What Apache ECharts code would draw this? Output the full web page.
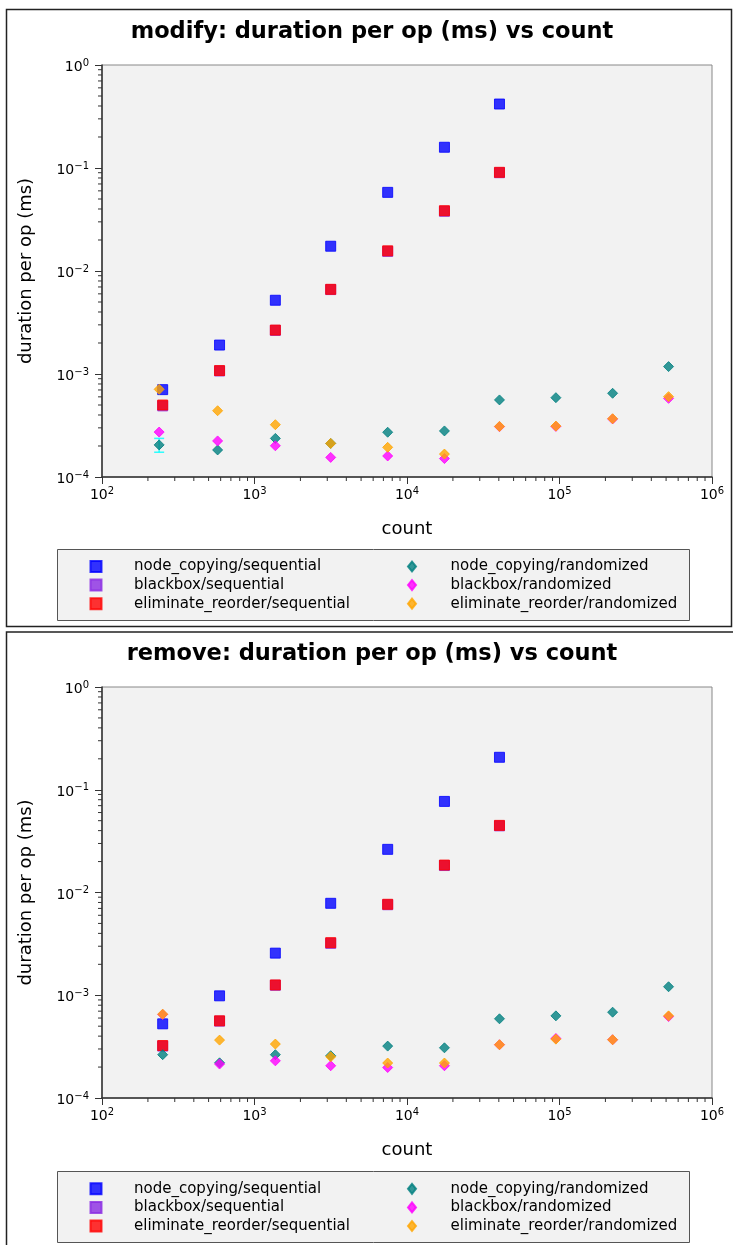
<!DOCTYPE html>
<html><head><meta charset="utf-8">
<script src="https://cdn.jsdelivr.net/npm/echarts@6/dist/echarts.min.js"></script>
<style>html,body{margin:0;padding:0;background:#fff}#c{width:733px;height:1245px}</style>
</head><body><div id="c"></div>
<script>
// ---------- data ----------
const seriesNames = ['node_copying/sequential','blackbox/sequential','eliminate_reorder/sequential',
                     'node_copying/randomized','blackbox/randomized','eliminate_reorder/randomized'];
const seqCounts = [250, 590, 1370, 3160, 7470, 17600, 40400];
const randCounts = [250, 590, 1370, 3160, 7470, 17600, 40400, 94700, 223000, 519000];
const modifyRandCounts = [237, 573, 1370, 3160, 7470, 17600, 40400, 94700, 223000, 519000];

// modify
const modNodeSeq  = [7.05e-4, 1.91e-3, 5.2e-3, 0.0174, 0.058, 0.159, 0.418];
const modBlackSeq = [4.9e-4, 1.07e-3, 2.65e-3, 6.6e-3, 0.0155, 0.038, 0.090];
const modElimSeq  = [5.0e-4, 1.08e-3, 2.67e-3, 6.64e-3, 0.0157, 0.0385, 0.0908];
const modNodeRand  = [2.05e-4, 1.83e-4, 2.37e-4, 2.12e-4, 2.72e-4, 2.80e-4, 5.6e-4, 5.89e-4, 6.5e-4, 1.18e-3];
const modBlackRand = [2.73e-4, 2.24e-4, 2.01e-4, 1.55e-4, 1.6e-4, 1.51e-4, 3.08e-4, 3.1e-4, 3.66e-4, 5.8e-4];
const modElimRand  = [7.1e-4, 4.4e-4, 3.22e-4, 2.12e-4, 1.94e-4, 1.67e-4, 3.1e-4, 3.12e-4, 3.68e-4, 6.03e-4];
const modErrBars = [[237, 1.74e-4, 2.37e-4]];

// remove
const remNodeSeq  = [5.27e-4, 9.87e-4, 2.57e-3, 7.85e-3, 0.0263, 0.077, 0.207];
const remBlackSeq = [3.2e-4, 5.6e-4, 1.25e-3, 3.2e-3, 7.6e-3, 0.0183, 0.0445];
const remElimSeq  = [3.24e-4, 5.64e-4, 1.26e-3, 3.25e-3, 7.68e-3, 0.0185, 0.045];
const remNodeRand  = [2.64e-4, 2.2e-4, 2.64e-4, 2.58e-4, 3.2e-4, 3.08e-4, 5.9e-4, 6.3e-4, 6.84e-4, 1.21e-3];
const remBlackRand = [6.5e-4, 2.14e-4, 2.30e-4, 2.06e-4, 1.98e-4, 2.06e-4, 3.3e-4, 3.8e-4, 3.69e-4, 6.2e-4];
const remElimRand  = [6.55e-4, 3.66e-4, 3.35e-4, 2.52e-4, 2.19e-4, 2.19e-4, 3.3e-4, 3.74e-4, 3.69e-4, 6.3e-4];
const remErrBars = [];

// ticks
const xMinorTicks = [200,300,400,500,600,700,800,900,2000,3000,4000,5000,6000,7000,8000,9000,
  20000,30000,40000,50000,60000,70000,80000,90000,200000,300000,400000,500000,600000,700000,800000,900000];
const yMinorTicks = [2e-4,3e-4,4e-4,5e-4,6e-4,7e-4,8e-4,9e-4,2e-3,3e-3,4e-3,5e-3,6e-3,7e-3,8e-3,9e-3,
  0.02,0.03,0.04,0.05,0.06,0.07,0.08,0.09,0.2,0.3,0.4,0.5,0.6,0.7,0.8,0.9];
const xRange = [100, 1e6];
const yRange = [1e-4, 1];
const titles = ['modify: duration per op (ms) vs count', 'remove: duration per op (ms) vs count'];
const xLabel = 'count';
const yLabel = 'duration per op (ms)';

// ---------- chart ----------
const FONT = 'DejaVu Sans';
const colors = ['rgba(0,0,255,0.8)','rgba(138,43,226,0.8)','rgba(255,0,0,0.8)',
                'rgba(0,128,128,0.8)','rgba(255,0,255,0.8)','rgba(255,165,0,0.8)'];
const grids = [
  {left: 102, top: 65, width: 610, height: 412},
  {left: 102, top: 687, width: 610, height: 411}
];
const zip = (xs, ys) => ys.map((v, i) => [xs[i], v]);
const expLabel = v => {
  const e = Math.round(Math.log10(v));
  return '{b|10}{s|' + (e < 0 ? '\u2212' + (-e) : e) + '}';
};
const labelRich = {
  b: {fontSize: 14, fontFamily: FONT, color: '#000', lineHeight: 14, padding: [5, 0, 0, 0]},
  s: {fontSize: 10, fontFamily: FONT, color: '#000', lineHeight: 10, verticalAlign: 'top'}
};

const xAxes = [], yAxes = [], series = [], titleArr = [], legends = [], graphics = [];
const panels = [
  {seq: [modNodeSeq, modBlackSeq, modElimSeq], rand: [modNodeRand, modBlackRand, modElimRand], rc: modifyRandCounts, err: modErrBars},
  {seq: [remNodeSeq, remBlackSeq, remElimSeq], rand: [remNodeRand, remBlackRand, remElimRand], rc: randCounts, err: remErrBars}
];

panels.forEach((p, gi) => {
  xAxes.push({
    type: 'log', logBase: 10, gridIndex: gi, min: xRange[0], max: xRange[1],
    name: xLabel, nameLocation: 'middle', nameGap: 43,
    nameTextStyle: {fontSize: 18, fontFamily: FONT, color: '#000'},
    axisLine: {lineStyle: {color: '#333', width: 1.5}},
    axisTick: {length: 7, inside: false, lineStyle: {color: '#333', width: 1}},
    axisLabel: {formatter: expLabel, rich: labelRich, margin: 9},
    splitLine: {show: false}, minorTick: {show: false}
  });
  yAxes.push({
    type: 'log', logBase: 10, gridIndex: gi, min: yRange[0], max: yRange[1],
    name: yLabel, nameLocation: 'middle', nameGap: 67,
    nameTextStyle: {fontSize: 18, fontFamily: FONT, color: '#000'},
    axisLine: {lineStyle: {color: '#333', width: 1.5}},
    axisTick: {length: 7, inside: false, lineStyle: {color: '#333', width: 1}},
    axisLabel: {formatter: expLabel, rich: labelRich, margin: 13},
    splitLine: {show: false}, minorTick: {show: false}
  });
  // minor ticks
  series.push({
    type: 'custom', xAxisIndex: gi, yAxisIndex: gi, silent: true, clip: false, z: 5,
    data: xMinorTicks.map(x => [x, yRange[0]]),
    renderItem: (params, api) => {
      const c = api.coord([api.value(0), api.value(1)]);
      return {type: 'line', shape: {x1: c[0], y1: c[1], x2: c[0], y2: c[1] + 4}, style: {stroke: '#333', lineWidth: 1}};
    }
  });
  series.push({
    type: 'custom', xAxisIndex: gi, yAxisIndex: gi, silent: true, clip: false, z: 5,
    data: yMinorTicks.map(y => [xRange[0], y]),
    renderItem: (params, api) => {
      const c = api.coord([api.value(0), api.value(1)]);
      return {type: 'line', shape: {x1: c[0], y1: c[1], x2: c[0] - 4, y2: c[1]}, style: {stroke: '#333', lineWidth: 1}};
    }
  });
  p.seq.forEach((vals, i) => {
    series.push({
      type: 'scatter', name: seriesNames[i], xAxisIndex: gi, yAxisIndex: gi,
      symbol: 'rect', symbolSize: 10, data: zip(seqCounts, vals),
      itemStyle: {color: colors[i], borderColor: colors[i], borderWidth: 1, opacity: 1}
    });
  });
  // error bars
  series.push({
    type: 'custom', xAxisIndex: gi, yAxisIndex: gi, silent: true, z: 2,
    data: p.err,
    renderItem: (params, api) => {
      const lo = api.coord([api.value(0), api.value(1)]);
      const hi = api.coord([api.value(0), api.value(2)]);
      const st = {stroke: 'rgba(0,255,255,0.8)', lineWidth: 1.5};
      return {type: 'group', children: [
        {type: 'line', shape: {x1: lo[0], y1: lo[1], x2: hi[0], y2: hi[1]}, style: st},
        {type: 'line', shape: {x1: lo[0] - 5, y1: lo[1], x2: lo[0] + 5, y2: lo[1]}, style: st},
        {type: 'line', shape: {x1: hi[0] - 5, y1: hi[1], x2: hi[0] + 5, y2: hi[1]}, style: st}
      ]};
    }
  });
  p.rand.forEach((vals, i) => {
    series.push({
      type: 'scatter', name: seriesNames[3 + i], xAxisIndex: gi, yAxisIndex: gi,
      symbol: 'diamond', symbolSize: 10, data: zip(p.rc, vals),
      itemStyle: {color: colors[3 + i], borderColor: colors[3 + i], borderWidth: 1, opacity: 1}
    });
  });
  titleArr.push({
    text: titles[gi], left: 372, textAlign: 'center', top: gi === 0 ? 21 : 643, padding: 0,
    textStyle: {fontSize: 22.5, fontWeight: 'bold', fontFamily: FONT, color: '#000'}
  });
  const legTop = gi === 0 ? 559 : 1181.3;
  const legText = (pad) => ({fontSize: 15, fontFamily: FONT, color: '#000', lineHeight: 15, padding: [0, 0, 0, pad]});
  legends.push({
    orient: 'vertical', left: 89.5, top: legTop, itemGap: 3.6, icon: 'rect', padding: 0,
    itemWidth: 11, itemHeight: 11, selectedMode: false,
    data: seriesNames.slice(0, 3), textStyle: legText(27.5)
  });
  legends.push({
    orient: 'vertical', left: 407, top: legTop, itemGap: 3.6, icon: 'diamond', padding: 0,
    itemWidth: 8, itemHeight: 10, selectedMode: false,
    data: seriesNames.slice(3), textStyle: legText(29.5)
  });
  graphics.push({
    type: 'rect', left: 57, top: gi === 0 ? 549 : 1171, z: -1, silent: true,
    shape: {width: 632, height: 71}, style: {fill: '#f2f2f2', stroke: '#555', lineWidth: 1}
  });
});

graphics.push({type: 'rect', z: -10, silent: true, shape: {x: 6.5, y: 9.5, width: 725, height: 617},
  style: {fill: '#fff', stroke: '#222', lineWidth: 1.5}});
graphics.push({type: 'rect', z: -10, silent: true, shape: {x: 6.5, y: 632, width: 800, height: 700},
  style: {fill: '#fff', stroke: '#222', lineWidth: 1.5}});

const chart = echarts.init(document.getElementById('c'), null, {renderer: 'canvas'});
chart.setOption({
  backgroundColor: '#fff',
  animation: false,
  title: titleArr,
  legend: legends,
  grid: grids.map(g => Object.assign({show: true, backgroundColor: '#f2f2f2', borderColor: '#888', borderWidth: 1}, g)),
  xAxis: xAxes,
  yAxis: yAxes,
  series: series,
  graphic: graphics
});
</script>
</body></html>
